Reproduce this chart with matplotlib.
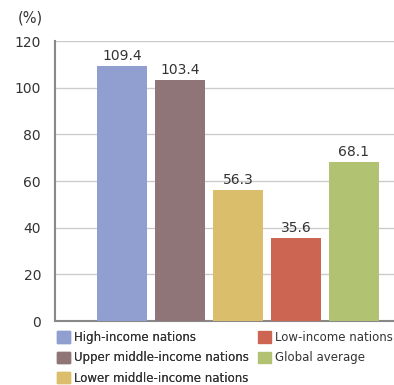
import matplotlib.pyplot as plt
import numpy as np

categories = ['High-income nations', 'Upper middle-income nations',
              'Lower middle-income nations', 'Low-income nations', 'Global average']
values = [109.4, 103.4, 56.3, 35.6, 68.1]
colors = ['#909fd0', '#8f7478', '#dbbe6b', '#cc6652', '#b2c273']
yticks = [0, 20, 40, 60, 80, 100, 120]

plt.rcParams['font.family'] = ['DejaVu Sans']

fig = plt.figure(figsize=(3.94, 3.85), dpi=100)
ax = fig.add_axes([0.1396, 0.1662, 0.8604, 0.7273])

x = np.arange(len(values))
ax.bar(x, values, width=0.862, color=colors, zorder=3)
for xi, v in zip(x, values):
    ax.text(xi, v + 1.2, f'{v:.1f}', ha='center', va='bottom', fontsize=10,
            color='#333333', zorder=4)

ax.set_xlim(-1.155, 4.69)
ax.set_ylim(0, 120)
ax.set_yticks(yticks)
ax.set_xticks([])
ax.tick_params(axis='y', length=0, labelsize=10, pad=10, labelcolor='#333333')
ax.grid(axis='y', color='#cccccc', linewidth=1, zorder=0)
for s in ['top', 'right']:
    ax.spines[s].set_visible(False)
for s in ['left', 'bottom']:
    ax.spines[s].set_color('#888888')
    ax.spines[s].set_linewidth(1.5)

fig.text(0.045, 0.953, '(%)', fontsize=10.5, color='#333333',
         ha='left', va='center')

# legend in two columns, placed separately
handles = [plt.Rectangle((0, 0), 1, 1, color=c) for c in colors]
legend_kw = dict(loc='upper left', frameon=False,
                 prop={'family': 'DejaVu Sans', 'size': 8.5},
                 handlelength=1.1, handleheight=1.1, handletextpad=0.35,
                 labelspacing=0.62, borderaxespad=0, borderpad=0,
                 labelcolor='#333333')
leg1 = fig.legend(handles[:3], categories[:3], bbox_to_anchor=(0.145, 0.14), **legend_kw)
fig.add_artist(leg1)
fig.legend(handles[3:], categories[3:], bbox_to_anchor=(0.655, 0.14), **legend_kw)

fig.savefig('out.png', dpi=100)
